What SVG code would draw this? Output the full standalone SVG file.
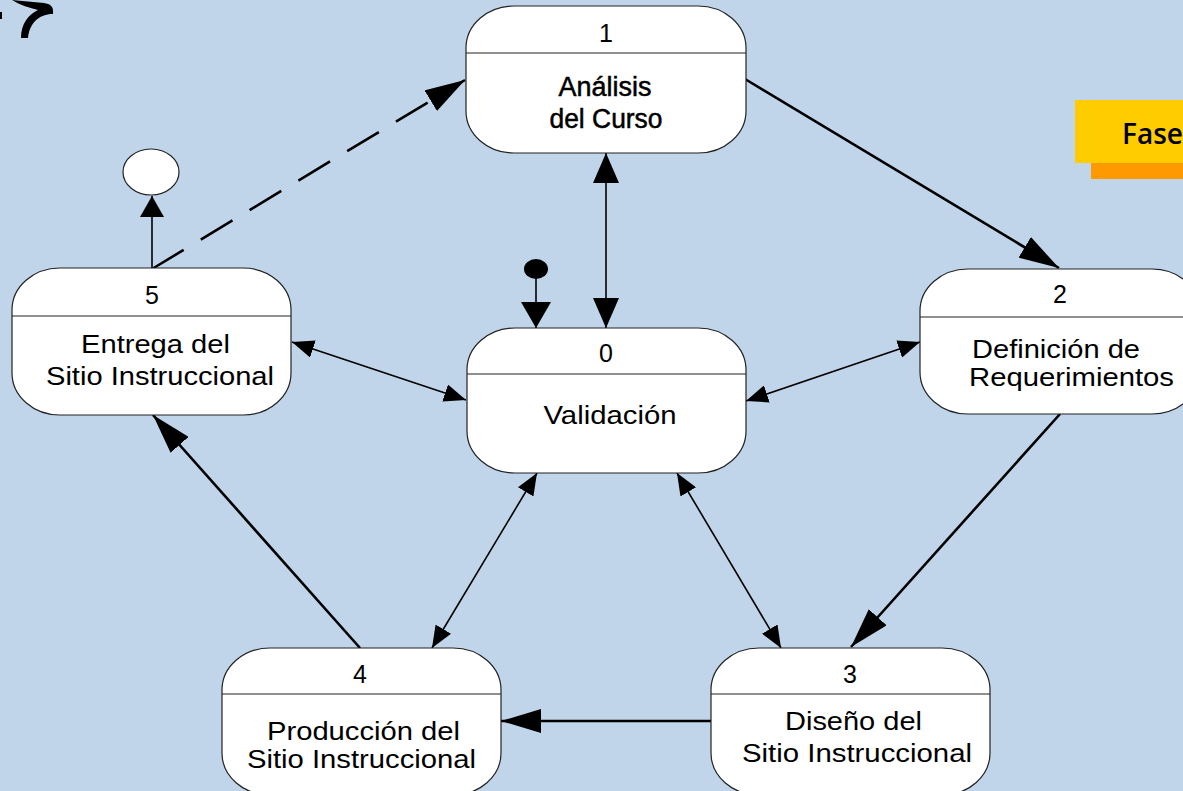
<svg xmlns="http://www.w3.org/2000/svg" width="1183" height="791" viewBox="0 0 1183 791">
<style>
.node rect{fill:#fff;stroke:#222;stroke-width:1.2}
.node line{stroke:#222;stroke-width:1.2}
.t{font-family:"Liberation Sans",Arial,sans-serif;font-size:25px;fill:#000;text-anchor:middle}
.t1{font-family:"Liberation Sans",Arial,sans-serif;font-size:27px;fill:#000;stroke:#000;stroke-width:0.5;text-anchor:middle}
.heavy{stroke:#000;stroke-width:2.6;fill:none}
.thin{stroke:#000;stroke-width:1.6;fill:none}
</style>
<defs>
<marker id="big" markerUnits="userSpaceOnUse" viewBox="0 0 40 24" refX="40" refY="12" markerWidth="40" markerHeight="24" orient="auto"><path d="M0,0 L40,12 L0,24 z" fill="#000"/></marker>
<marker id="med" markerUnits="userSpaceOnUse" viewBox="0 0 30 26" refX="30" refY="13" markerWidth="30" markerHeight="26" orient="auto-start-reverse"><path d="M0,0 L30,13 L0,26 z" fill="#000"/></marker>
<marker id="dotA" markerUnits="userSpaceOnUse" viewBox="0 0 26 30" refX="26" refY="15" markerWidth="26" markerHeight="30" orient="auto"><path d="M0,0 L26,15 L0,30 z" fill="#000"/></marker>
<marker id="sm" markerUnits="userSpaceOnUse" viewBox="0 0 22 18" refX="22" refY="9" markerWidth="22" markerHeight="18" orient="auto-start-reverse"><path d="M0,0 L22,9 L0,18 z" fill="#000"/></marker>
<marker id="endA" markerUnits="userSpaceOnUse" viewBox="0 0 21 24" refX="21" refY="12" markerWidth="21" markerHeight="24" orient="auto"><path d="M0,0 L21,12 L0,24 z" fill="#000"/></marker>
</defs>
<rect width="1183" height="791" fill="#C0D5E9"/>
<!-- decoration top-left -->
<path d="M12,0 L44,3 C50,4 54,6 53,14 C42,14 30,20 28,38 L21,38 C21,24 28,15 38,10 C30,8 20,5 12,0 z" fill="#000"/>
<rect x="0" y="12" width="2" height="7" fill="#000"/>
<!-- Fase label -->
<g id="fase">
<rect x="1091" y="116" width="120" height="63" fill="#FF9900"/>
<rect x="1075" y="100" width="120" height="63" fill="#FFCC00"/>
<text x="1122" y="144" font-family="'Open Sans','DejaVu Sans',sans-serif" font-size="28" font-weight="600" fill="#000">Fase</text>
</g>
<!-- connectors -->
<g id="connectors">
<path class="heavy" d="M745,79 L1059,268" marker-end="url(#big)"/>
<path class="heavy" d="M1060,414 L851,647" marker-end="url(#big)"/>
<path class="heavy" d="M711,721 L501,721" marker-end="url(#big)"/>
<path class="heavy" d="M360,648 L153,415" marker-end="url(#big)"/>
<path class="heavy" d="M152,269 L465,80" stroke-dasharray="37 20" marker-end="url(#big)"/>
<path class="thin" d="M152,269 L152,196" marker-end="url(#endA)"/>
<path class="thin" d="M536,279 L536,328" marker-end="url(#dotA)"/>
<path class="thin" d="M606,153 L606,328" marker-start="url(#med)" marker-end="url(#med)"/>
<path class="thin" d="M292,342 L466,400" marker-start="url(#sm)" marker-end="url(#sm)"/>
<path class="thin" d="M746,401 L920,342" marker-start="url(#sm)" marker-end="url(#sm)"/>
<path class="thin" d="M537,473 L432,648" marker-start="url(#sm)" marker-end="url(#sm)"/>
<path class="thin" d="M677,473 L781,648" marker-start="url(#sm)" marker-end="url(#sm)"/>
</g>
<!-- initial and final states -->
<g id="initial"><ellipse cx="536" cy="269" rx="12" ry="10" fill="#000"/></g>
<g id="final"><ellipse cx="151" cy="172" rx="28" ry="23" fill="#fff" stroke="#222" stroke-width="1.2"/></g>
<!-- nodes -->
<g id="node1" class="node">
<rect x="466" y="6" width="280" height="147" rx="48" ry="42"/>
<line x1="466" y1="53" x2="746" y2="53"/>
<text class="t" x="606" y="42" font-size="23">1</text>
<text class="t1" x="605" y="96" textLength="93" lengthAdjust="spacingAndGlyphs">Análisis</text>
<text class="t1" x="606" y="128" textLength="113" lengthAdjust="spacingAndGlyphs">del Curso</text>
</g>
<g id="node0" class="node">
<rect x="467" y="328" width="279" height="145" rx="48" ry="42"/>
<line x1="467" y1="374" x2="746" y2="374"/>
<text class="t" x="606" y="362">0</text>
<text class="t" x="610" y="424" textLength="133" lengthAdjust="spacingAndGlyphs">Validación</text>
</g>
<g id="node2" class="node">
<rect x="920" y="269" width="280" height="145" rx="48" ry="42"/>
<line x1="920" y1="317" x2="1200" y2="317"/>
<text class="t" x="1060" y="303">2</text>
<text class="t" x="1056" y="358" textLength="168" lengthAdjust="spacingAndGlyphs">Definición de</text>
<text class="t" x="1071.5" y="386" textLength="205" lengthAdjust="spacingAndGlyphs">Requerimientos</text>
</g>
<g id="node3" class="node">
<rect x="711" y="648" width="279" height="147" rx="48" ry="42"/>
<line x1="711" y1="694" x2="990" y2="694"/>
<text class="t" x="850" y="683">3</text>
<text class="t" x="853.5" y="730" textLength="137" lengthAdjust="spacingAndGlyphs">Diseño del</text>
<text class="t" x="857" y="762" textLength="230" lengthAdjust="spacingAndGlyphs">Sitio Instruccional</text>
</g>
<g id="node4" class="node">
<rect x="222" y="648" width="279" height="147" rx="48" ry="42"/>
<line x1="222" y1="694" x2="501" y2="694"/>
<text class="t" x="360" y="683">4</text>
<text class="t" x="363.5" y="740" textLength="193" lengthAdjust="spacingAndGlyphs">Producción del</text>
<text class="t" x="361.5" y="768" textLength="229" lengthAdjust="spacingAndGlyphs">Sitio Instruccional</text>
</g>
<g id="node5" class="node">
<rect x="12" y="268" width="279" height="147" rx="48" ry="42"/>
<line x1="12" y1="316" x2="291" y2="316"/>
<text class="t" x="152" y="304">5</text>
<text class="t" x="155.5" y="353" textLength="149" lengthAdjust="spacingAndGlyphs">Entrega del</text>
<text class="t" x="160" y="385" textLength="228" lengthAdjust="spacingAndGlyphs">Sitio Instruccional</text>
</g>
</svg>
